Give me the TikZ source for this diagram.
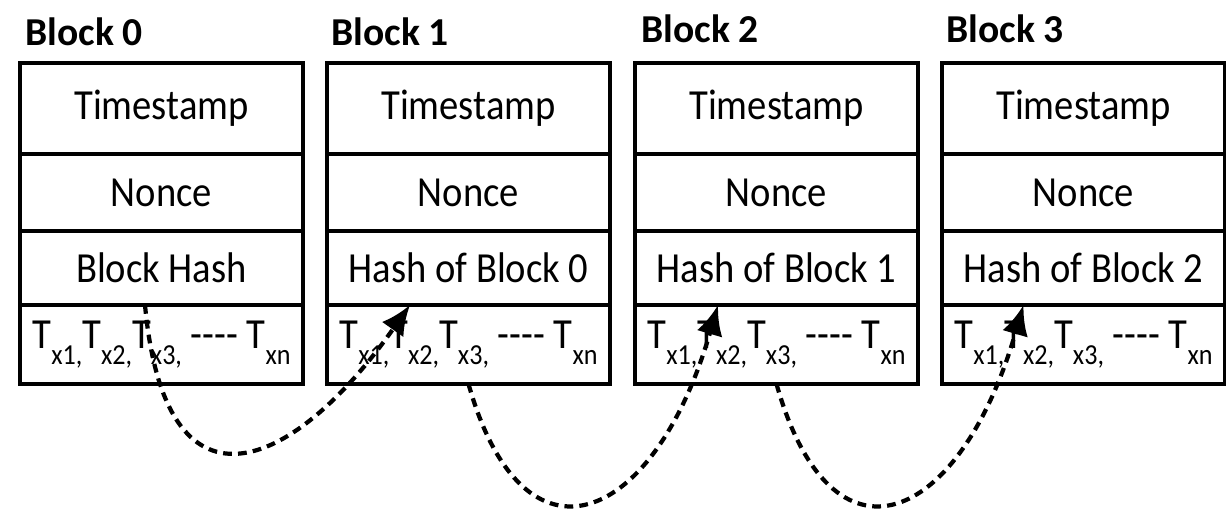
\documentclass[tikz,border=0pt]{standalone}
\usepackage{fontspec}
\setmainfont{Carlito}
\newfontfamily\fieldfont{Carlito}[FakeStretch=0.9]
\usetikzlibrary{arrows.meta}

% transaction entry with a low subscript
\newcommand{\tsub}[1]{T\raisebox{-9.5pt}{\fontsize{16.5}{16.5}\selectfont x#1}}

\tikzset{
  field/.style={draw, line width=2.4pt, minimum width=5.66cm, outer sep=0pt, inner sep=0pt, font=\fieldfont\fontsize{24.4}{28}\selectfont},
  blocktitle/.style={anchor=base west, inner sep=0pt, font=\bfseries\fontsize{22.5}{26}\selectfont},
  link/.style={-{Latex[length=17pt,width=15pt]}, line width=2.4pt, dash pattern=on 5pt off 3.5pt}
}

\begin{document}
\begin{tikzpicture}
			\useasboundingbox (0,0) rectangle (24.52,10.18);
			% block 0
			\node[blocktitle] (b0) at (0.5,9.28) {Block 0};
			\node[field, minimum height=1.82cm] (ts0) at (3.23,8.01) {Timestamp};
			\node[field, minimum height=1.54cm] (n0) at (3.23,6.33) {Nonce};
			\node[field, minimum height=1.48cm] (h0) at (3.23,4.82) {Block Hash};
			\node[field, minimum height=1.58cm] (tx0) at (3.23,3.29) {\tsub{1,}\tsub{2,}\tsub{3,} {-}{-}{-}{-} \tsub{n}};
			% block 1
			\node[blocktitle] (b1) at (6.62,9.28) {Block 1};
			\node[field, minimum height=1.82cm] (ts1) at (9.37,8.01) {Timestamp};
			\node[field, minimum height=1.54cm] (n1) at (9.37,6.33) {Nonce};
			\node[field, minimum height=1.48cm] (h1) at (9.37,4.82) {Hash of Block 0};
			\node[field, minimum height=1.58cm] (tx1) at (9.37,3.29) {\tsub{1,}\tsub{2,}\tsub{3,} {-}{-}{-}{-} \tsub{n}};
			% block 2
			\node[blocktitle] (b2) at (12.82,9.34) {Block 2};
			\node[field, minimum height=1.82cm] (ts2) at (15.53,8.01) {Timestamp};
			\node[field, minimum height=1.54cm] (n2) at (15.53,6.33) {Nonce};
			\node[field, minimum height=1.48cm] (h2) at (15.53,4.82) {Hash of Block 1};
			\node[field, minimum height=1.58cm] (tx2) at (15.53,3.29) {\tsub{1,}\tsub{2,}\tsub{3,} {-}{-}{-}{-} \tsub{n}};
			% block 3
			\node[blocktitle] (b3) at (18.92,9.34) {Block 3};
			\node[field, minimum height=1.82cm] (ts3) at (21.67,8.01) {Timestamp};
			\node[field, minimum height=1.54cm] (n3) at (21.67,6.33) {Nonce};
			\node[field, minimum height=1.48cm] (h3) at (21.67,4.82) {Hash of Block 2};
			\node[field, minimum height=1.58cm] (tx3) at (21.67,3.29) {\tsub{1,}\tsub{2,}\tsub{3,} {-}{-}{-}{-} \tsub{n}};
			% hash links
			\draw[link] ([xshift=-0.33cm]tx0.north) .. controls +(0.4,-4.38) and +(-2.4,-3.4) .. ([xshift=-1.17cm]tx1.north);
			\draw[link] (tx1.south) .. controls +(1.1,-3.9) and +(-1.28,-4.42) .. ([xshift=-1.17cm]tx2.north);
			\draw[link] (tx2.south) .. controls +(1.1,-3.9) and +(-1.28,-4.42) .. ([xshift=-1.2cm]tx3.north);
		\end{tikzpicture}
\end{document}
